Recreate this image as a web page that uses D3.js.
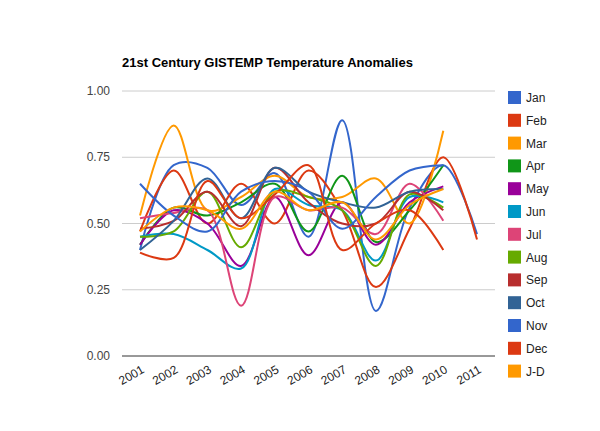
<!DOCTYPE html><html><head><script src="https://cdn.jsdelivr.net/npm/d3@7"></script>
<style>body{margin:0;background:#fff}text{font-family:Arial,"Liberation Sans",sans-serif}</style></head><body><svg width="600" height="431"></svg><script>
const years=[2001,2002,2003,2004,2005,2006,2007,2008,2009,2010,2011];
const months=["Jan","Feb","Mar","Apr","May","Jun","Jul","Aug","Sep","Oct","Nov","Dec","J-D"];
const Jan=[0.40,0.72,0.71,0.57,0.69,0.45,0.89,0.17,0.56,0.72,0.46];
const Feb=[0.47,0.70,0.50,0.65,0.50,0.70,0.55,0.26,0.48,0.75,0.44];
const Mar=[0.53,0.87,0.55,0.60,0.68,0.60,0.60,0.67,0.50,0.85];
const Apr=[0.42,0.56,0.53,0.58,0.65,0.47,0.68,0.43,0.55,0.72];
const May=[0.42,0.55,0.50,0.34,0.60,0.38,0.58,0.42,0.58,0.64];
const Jun=[0.45,0.46,0.40,0.33,0.63,0.57,0.55,0.36,0.60,0.58];
const Jul=[0.52,0.54,0.55,0.19,0.60,0.55,0.56,0.46,0.65,0.51];
const Aug=[0.45,0.47,0.62,0.41,0.62,0.60,0.55,0.34,0.61,0.56];
const Sep=[0.48,0.51,0.62,0.49,0.71,0.58,0.50,0.50,0.62,0.55];
const Oct=[0.40,0.51,0.67,0.52,0.71,0.62,0.58,0.56,0.62,0.63];
const Nov=[0.65,0.53,0.47,0.62,0.66,0.62,0.48,0.60,0.70,0.72];
const Dec=[0.39,0.37,0.66,0.52,0.61,0.72,0.40,0.50,0.55,0.40];
const JD=[0.47,0.56,0.55,0.48,0.62,0.55,0.58,0.44,0.57,0.63];
const series=[Jan,Feb,Mar,Apr,May,Jun,Jul,Aug,Sep,Oct,Nov,Dec,JD];
const colors=["#3366cc","#dc3912","#ff9900","#109618","#990099","#0099c6","#dd4477","#66aa00","#b82e2e","#316395","#3366cc","#dc3912","#ff9900"];
const yTicks=[0,0.25,0.5,0.75,1];
const svg=d3.select("svg");
const x=d3.scaleLinear().domain([2001,2011]).range([140,477]);
const y=d3.scaleLinear().domain([0,1]).range([356,91]);
svg.append("text").attr("x",122).attr("y",67).attr("font-size",13).attr("font-weight","bold").text("21st Century GISTEMP Temperature Anomalies");
svg.append("g").selectAll("line").data(yTicks).join("line").attr("x1",122).attr("x2",495).attr("y1",d=>y(d)).attr("y2",d=>y(d)).attr("stroke",d=>d===0?"#333":"#ccc").attr("stroke-width",1);
svg.append("g").selectAll("text").data(yTicks).join("text").attr("x",110).attr("y",d=>y(d)+4).attr("text-anchor","end").attr("font-size",12).attr("fill","#444").text(d=>d.toFixed(2));
svg.append("g").selectAll("text").data(years).join("text").attr("transform",d=>`translate(${x(d)+5},${372}) rotate(-30)`).attr("text-anchor","end").attr("font-size",12).attr("fill","#222").text(d=>d);
const line=d3.line().x((d,i)=>x(years[i])).y(d=>y(d)).curve(d3.curveCatmullRom.alpha(0.5));
series.forEach((s,i)=>svg.append("path").attr("d",line(s)).attr("fill","none").attr("stroke",colors[i]).attr("stroke-width",2));
const lg=svg.append("g").selectAll("g").data(months).join("g").attr("transform",(d,i)=>`translate(508,${91+i*22.8})`);
lg.append("rect").attr("width",13).attr("height",13).attr("fill",(d,i)=>colors[i]);
lg.append("text").attr("x",18).attr("y",11).attr("font-size",12).attr("fill","#222").text(d=>d);
</script></body></html>
